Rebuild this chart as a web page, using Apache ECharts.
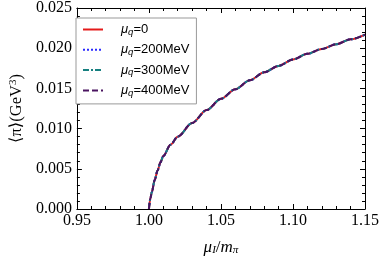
<!DOCTYPE html>
<html><head><meta charset="utf-8">
<script src="https://cdn.jsdelivr.net/npm/echarts@6/dist/echarts.min.js"></script>
<style>html,body{margin:0;padding:0;background:#fff}#c{width:382px;height:261px}</style>
</head><body><div id="c"></div>
<script>
const xValues = [1.000,1.001,1.002,1.004,1.006,1.008,1.010,1.015,1.020,1.030,1.040,1.050,1.060,1.070,1.080,1.090,1.100,1.110,1.120,1.130,1.140,1.150];
const pi_mu0   = [0.0000,0.0013,0.0021,0.0036,0.0048,0.0058,0.0066,0.0080,0.0090,0.0107,0.0123,0.0137,0.0149,0.0160,0.0170,0.0178,0.0186,0.0193,0.0199,0.0205,0.0211,0.0217];
const pi_mu200 = [0.0000,0.0013,0.0021,0.0036,0.0048,0.0058,0.0066,0.0080,0.0090,0.0107,0.0123,0.0137,0.0149,0.0160,0.0170,0.0178,0.0186,0.0193,0.0199,0.0205,0.0211,0.0217];
const pi_mu300 = [0.0000,0.0013,0.0021,0.0036,0.0048,0.0058,0.0066,0.0080,0.0090,0.0107,0.0123,0.0137,0.0149,0.0160,0.0170,0.0178,0.0186,0.0193,0.0199,0.0205,0.0211,0.0217];
const pi_mu400 = [0.0000,0.0013,0.0021,0.0036,0.0048,0.0058,0.0066,0.0080,0.0090,0.0107,0.0123,0.0137,0.0149,0.0160,0.0170,0.0178,0.0186,0.0193,0.0199,0.0205,0.0211,0.0217];
const seriesNames = ['μq=0','μq=200MeV','μq=300MeV','μq=400MeV'];
const seriesQ = ['0','200MeV','300MeV','400MeV'];
const colors = ['#e41a1a','#2a2aff','#178080','#4a1460'];
const dashes = ['solid',[2,2],[6,2,2,2],[6,3]];
const allData = [pi_mu0,pi_mu200,pi_mu300,pi_mu400];

const serif = 'Liberation Serif, DejaVu Serif, serif';
const sans = 'Liberation Sans, Arial, sans-serif';

const chart = echarts.init(document.getElementById('c'), null, {renderer:'canvas'});
const tickStyle = {color:'#000', width:1};
function xAx(pos, showLabel){
  return {type:'value', position:pos, min:0.95, max:1.15, interval:0.05,
    axisLine:{show:true, onZero:false, lineStyle:{color:'#000', width:1}},
    axisTick:{show:true, inside:true, length:5, lineStyle:tickStyle},
    minorTick:{show:true, splitNumber:5, length:3, lineStyle:tickStyle},
    splitLine:{show:false}, minorSplitLine:{show:false},
    axisLabel:{show:showLabel, color:'#000', fontFamily:serif, fontSize:16, margin:4,
      formatter:v=>v.toFixed(2)},
    name: showLabel ? '{i|μ}{s|I}{n|/}{i|m}{s|π}' : '',
    nameLocation:'middle', nameGap:30,
    nameTextStyle:{rich:{
      i:{fontFamily:serif, fontStyle:'italic', fontSize:17, color:'#000'},
      n:{fontFamily:serif, fontSize:17, color:'#000'},
      s:{fontFamily:serif, fontStyle:'italic', fontSize:11, color:'#000', verticalAlign:'bottom', padding:[6,0,0,0]}
    }}
  };
}
function yAx(pos, showLabel){
  return {type:'value', position:pos, min:0, max:0.025, interval:0.005,
    axisLine:{show:true, onZero:false, lineStyle:{color:'#000', width:1}},
    axisTick:{show:true, inside:true, length:5, lineStyle:tickStyle},
    minorTick:{show:true, splitNumber:5, length:3, lineStyle:tickStyle},
    splitLine:{show:false}, minorSplitLine:{show:false},
    axisLabel:{show:showLabel, color:'#000', fontFamily:serif, fontSize:16, margin:5,
      formatter:v=>v.toFixed(3)},
    name: showLabel ? '{n|⟨π⟩(GeV}{s|3}{n|)}' : '',
    nameLocation:'middle', nameGap:50, nameRotate:90,
    nameTextStyle:{rich:{
      n:{fontFamily:serif, fontSize:16.5, color:'#000'},
      s:{fontFamily:serif, fontSize:11, color:'#000', verticalAlign:'top', padding:[0,0,6,0]}
    }}
  };
}
const option = {
  animation:false,
  backgroundColor:'#fff',
  grid:{left:68, right:15, top:7, bottom:46, containLabel:false},
  xAxis:[xAx('bottom', true), xAx('top', false)],
  yAxis:[yAx('left', true), yAx('right', false)],
  legend:{
    orient:'vertical', left:76, top:18,
    padding:[5,7,6,6], itemGap:6.3, itemWidth:20, itemHeight:14,
    borderColor:'#999', borderWidth:1, backgroundColor:'#fff',
    itemStyle:{color:'transparent', borderColor:'transparent', borderWidth:0},
    data:seriesNames,
    formatter:function(name){ const k = seriesNames.indexOf(name); return '{i|μ}{s|q}{n|='+seriesQ[k]+'}'; },
    textStyle:{padding:[0,0,0,13], rich:{
      i:{fontFamily:sans, fontStyle:'italic', fontSize:13, color:'#000'},
      n:{fontFamily:sans, fontSize:13, color:'#000'},
      s:{fontFamily:sans, fontStyle:'italic', fontSize:9.5, color:'#000', verticalAlign:'bottom', padding:[5,0,0,0]}
    }}
  },
  series: allData.map((d,k)=>({
    name:seriesNames[k], type:'line', xAxisIndex:0, yAxisIndex:0,
    data:xValues.map((x,i)=>[x,d[i]]),
    smooth:0.3, smoothMonotone:'x', symbol:'none', showSymbol:false,
    lineStyle:{color:colors[k], width:2, type:dashes[k]},
    itemStyle:{color:colors[k]},
    z:2+k
  }))
};
chart.setOption(option);
</script></body></html>
